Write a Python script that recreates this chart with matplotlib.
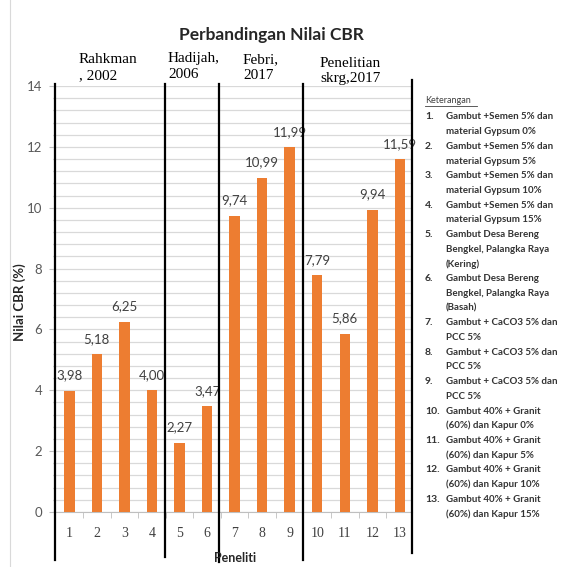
import matplotlib
matplotlib.use("Agg")
import matplotlib.pyplot as plt
from matplotlib.lines import Line2D
from matplotlib.ticker import MultipleLocator, FixedLocator
import numpy as np

# ---- data ----
categories = ["1", "2", "3", "4", "5", "6", "7", "8", "9", "10", "11", "12", "13"]
values = [3.98, 5.18, 6.25, 4.00, 2.27, 3.47, 9.74, 10.99, 11.99, 7.79, 5.86, 9.94, 11.59]
value_labels = ["3,98", "5,18", "6,25", "4,00", "2,27", "3,47", "9,74", "10,99",
                "11,99", "7,79", "5,86", "9,94", "11,59"]
y_ticks = [0, 2, 4, 6, 8, 10, 12, 14]
group_labels = ["Rahkman\n, 2002", "Hadijah,\n2006", "Febri,\n2017", "Penelitian\nskrg,2017"]
title = "Perbandingan Nilai CBR"
y_label = "Nilai CBR (%)"
x_label = "Peneliti"
legend_title = "Keterangan"
legend_items = [
    ["Gambut +Semen 5% dan", "material Gypsum 0%"],
    ["Gambut +Semen 5% dan", "material Gypsum 5%"],
    ["Gambut +Semen 5% dan", "material Gypsum 10%"],
    ["Gambut +Semen 5% dan", "material Gypsum 15%"],
    ["Gambut Desa Bereng", "Bengkel, Palangka Raya", "(Kering)"],
    ["Gambut Desa Bereng", "Bengkel, Palangka Raya", "(Basah)"],
    ["Gambut + CaCO3 5% dan", "PCC 5%"],
    ["Gambut + CaCO3 5% dan", "PCC 5%"],
    ["Gambut + CaCO3 5% dan", "PCC 5%"],
    ["Gambut 40% + Granit", "(60%) dan Kapur 0%"],
    ["Gambut 40% + Granit", "(60%) dan Kapur 5%"],
    ["Gambut 40% + Granit", "(60%) dan Kapur 10%"],
    ["Gambut 40% + Granit", "(60%) dan Kapur 15%"],
]

W, H = 570, 567
SANS = ["Lato", "DejaVu Sans"]
SERIF = ["Liberation Serif", "DejaVu Serif"]

def fx(px):
    return px / W

def fy(py):
    return 1 - py / H

fig = plt.figure(figsize=(W / 100, H / 100), dpi=100)
fig.patch.set_facecolor("white")

ax = fig.add_axes([fx(53.3), fy(512), 359 / W, 426 / H])
x = np.arange(1, len(categories) + 1)
ax.bar(x, values, width=0.38, color="#ED7D31", zorder=3)
ax.set_xlim(0.42, 13.45)
ax.set_ylim(0, 14)

# gridlines
ax.set_yticks(y_ticks)
ax.yaxis.set_minor_locator(MultipleLocator(0.4))
ax.grid(which="both", axis="y", color="#d9d9d9", lw=0.9, zorder=0)
ax.tick_params(axis="y", which="minor", length=0)
ax.tick_params(axis="y", which="major", length=3, color="#bfbfbf", pad=5,
               labelsize=9.5, labelcolor="#595959")
for lab in ax.get_yticklabels():
    lab.set_family(SANS)

ax.set_xticks(x)
ax.set_xticklabels(categories, family=SERIF, fontsize=10, color="#404040")
ax.xaxis.set_minor_locator(FixedLocator(np.arange(1.5, 13, 1.0)))
ax.tick_params(axis="x", which="major", length=0, pad=11)
ax.tick_params(axis="x", which="minor", length=4, color="#bfbfbf")

for s in ["left", "top", "right"]:
    ax.spines[s].set_visible(False)
ax.spines["bottom"].set_color("#bfbfbf")

for xi, v, lbl in zip(x, values, value_labels):
    ax.annotate(lbl, (xi, v), xytext=(0, 11), textcoords="offset points",
                ha="center", va="center", fontsize=9.5, family=SANS, color="#404040",
                zorder=4)

# group separator lines
sep_x = [0.48, 4.47, 6.43, 9.47, 13.43]
sep_top = [14.05, 14.05, 14.05, 14.05, 14.2]
sep_bot = [-1.58, -1.48, -1.64, -1.58, -1.35]
for sx, st, sb in zip(sep_x, sep_top, sep_bot):
    ax.plot([sx, sx], [st, sb], color="black", lw=1.6, clip_on=False, zorder=6)

# group labels
group_pos = [(79, 67.5), (168, 66.5), (243, 67.5), (320, 71)]
for (gx, gy), g in zip(group_pos, group_labels):
    fig.text(fx(gx), fy(gy), g, ha="left", va="center", family=SERIF, fontsize=11,
             color="black", linespacing=1.25)

# title and axis labels
fig.text(fx(271), fy(35), title, ha="center", va="center", family=SANS,
         fontweight="bold", fontsize=12.5, color="#262626")
fig.text(fx(20), fy(302), y_label, ha="center", va="center", rotation=90,
         family=SANS, fontweight="bold", fontsize=9.5, color="#262626")
fig.text(fx(235), fy(558), x_label, ha="center", va="center", family=SANS,
         fontweight="bold", fontsize=9, color="#262626")

# legend text
fig.text(fx(425), fy(101), legend_title, ha="left", va="center", family=SANS,
         fontsize=6.5, color="#404040")
fig.add_artist(Line2D([fx(425), fx(477)], [fy(106), fy(106)], color="#404040",
                      lw=0.6, transform=fig.transFigure))
line_idx = 0
step = 14.7
for i, item in enumerate(legend_items):
    y0 = 117 + line_idx * step
    fig.text(fx(425), fy(y0), f"{i + 1}.", ha="left", va="center", family=SANS,
             fontweight="bold", fontsize=7.5, color="#333333")
    for j, line in enumerate(item):
        fig.text(fx(446), fy(117 + (line_idx + j) * step), line, ha="left",
                 va="center", family=SANS, fontweight="bold", fontsize=7,
                 color="#333333")
    line_idx += len(item)

# chart-area border (left edge)
fig.add_artist(Line2D([fx(10), fx(10)], [0, 1], color="#d9d9d9", lw=0.8,
                      transform=fig.transFigure))

fig.savefig("out.png", dpi=100)
